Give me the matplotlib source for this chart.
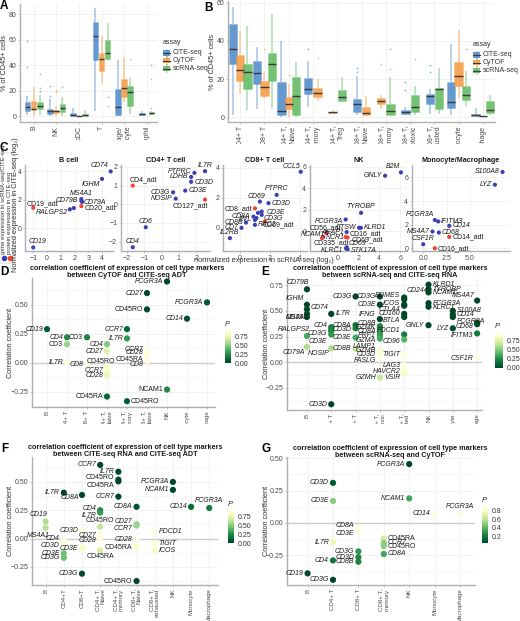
import matplotlib
matplotlib.use("Agg")
import matplotlib as mpl
import matplotlib.pyplot as plt
from matplotlib.transforms import Bbox, TransformedBbox
from matplotlib.patches import Rectangle, FancyBboxPatch
from matplotlib.lines import Line2D
from matplotlib.ticker import MultipleLocator

plt.rcParams['font.family'] = ['Liberation Sans', 'DejaVu Sans']
plt.rcParams['font.size'] = 5

W, H = 520, 621
fig = plt.figure(figsize=(W / 100, H / 100), dpi=100)

# ------------------------------------------------------------------ data
assays = ["CITE-seq", "CyTOF", "scRNA-seq"]
assay_colors = ["#4a87c7", "#f5983f", "#5cb85a"]

# panel A: lo, q1, median, q3, hi  (% of CD45+ cells)
a_cats = ["B", "NK", "pDC", "T", "Macrophage/\nMonocyte", "Neutrophil"]
a_cite = [[1, 4.6, 7.2, 11, 16], [0.5, 2, 4, 6, 14], [0, 0, 1, 2.6, 6.7],
          [4.6, 44, 62.7, 74, 85], [0, 0.8, 7.7, 21.4, 44], [0.3, 0.8, 1.5, 2.6, 4]]
a_cite_out = [[39, 59], [16, 24], [], [], [], []]
a_cytof = [[0, 5, 6, 12, 23], [0.5, 2.5, 4, 5, 8.5], [0, 0, 0.2, 0.5, 0.8],
           [25, 35.6, 45, 49.8, 63], [11, 15, 22, 29, 46.5], None]
a_cytof_out = [[], [19, 21], [], [], [], []]
a_rna = [[1, 6, 8, 11, 17], [0.5, 3.4, 6.5, 10, 15], [0, 0, 1, 2, 5],
         [44, 45, 50, 60, 73.5], [2, 8.5, 18.8, 24, 31], [1, 1.5, 2.5, 3.4, 4]]
a_rna_out = [[20, 22, 33], [23], [], [8, 15], [44.6], [6.7, 29, 40]]

# panel B
b_cats = ["CD4+ T", "CD8+ T", "CD4+ T,\nNaive", "CD4+ T,\nmemory", "CD4+ T,\nTreg",
          "CD8+ T,\nNaive", "CD8+ T,\nmemory", "CD8+ T,\ncytotoxic", "CD8+ T,\nexhausted",
          "Monocyte", "Macrophage"]
b_cite = [[1, 28, 35.6, 48.7, 57.7], [4, 17.4, 23, 29.6, 37], [0, 0.9, 3, 18.3, 40],
          [5.5, 12, 14.8, 20.5, 29.6], None, [0.9, 2.6, 6.6, 9.6, 21.7], None,
          [0.9, 1.7, 2.6, 3.5, 5.5], [1.7, 6.6, 10.9, 12.2, 14.8],
          [0.9, 4.9, 7.8, 18.3, 38.6], [0.3, 0.5, 1.2, 1.7, 5]]
b_cite_out = [[], [], [], [35.6], [], [23.6, 26], [], [14.3, 18.3], [23.6, 27.5], [], []]
b_cytof = [[12, 19, 24.9, 32.7, 45], [10, 11, 16, 18.8, 24], [0, 4, 7, 10.6, 17.4],
           [8.7, 10.4, 12.7, 15.3, 20], [1.9, 2.2, 2.4, 2.6, 3.8], [0.9, 0.9, 2.3, 5.2, 11],
           [4, 7, 8.3, 10, 11.5], None, None, [10, 16.5, 21.7, 29, 45.6], [0.3, 0.4, 0.5, 0.6, 0.7]]
b_cytof_out = [[], [36], [22], [31], [], [], [27.8], [], [], [], []]
b_rna = [[3.5, 15, 23.5, 28, 48], [4, 19, 28, 33.6, 54], [0, 0.9, 11, 21, 29], None,
         [8.7, 8.7, 10.6, 14.4, 21], None, [0.9, 0.9, 3, 7, 20.9],
         [0.9, 2.6, 5.5, 11.5, 16.5], [1.7, 4.3, 14.8, 15.3, 26],
         [5.2, 9.2, 11.7, 16.5, 24], [0.9, 2.1, 3.5, 8.7, 11.5]]
b_rna_out = [[], [], [], [], [], [], [25, 35.6], [30.4], [], [35.6], []]

# panel C: scRNA-seq (x) vs CITE-seq (y), protein points end in _adt
c_titles = ["B cell", "CD4+ T cell", "CD8+ T cell", "NK", "Monocyte/Macrophage"]
cb_name = ["CD74", "IGHM", "MS4A1", "CD79B", "CD79A", "RALGPS2", "", "CD19_adt", "CD20_adt", "CD19"]
cb_x = [4.63, 4.0, 2.5, 2.5, 2.55, 1.66, 1.95, -1.0, 2.5, -1.0]
cb_y = [4.0, 3.47, 2.05, 1.92, 1.85, 1.33, 1.42, 1.44, 1.56, -1.35]
c4_name = ["IL7R", "PTPRC", "LDHB", "CD3D", "CD3G", "CD3E", "NOSIP", "CD4_adt", "CD127_adt", "CD6", "CD4"]
c4_x = [2.51, 1.9, 1.71, 1.71, 0.67, 1.37, 0.82, -1.66, 2.51, -0.91, -1.66]
c4_y = [1.77, 1.68, 1.46, 1.2, 0.64, 0.73, 0.3, 1.0, 0.25, -1.23, -2.3]
c8_name = ["CCL5", "PTPRC", "CD69", "CD3D", "CD3E", "CD3G", "CD8_adt", "CD8A", "EVL", "CD8B",
           "RAC2", "CD7", "IL2RB", "CD69_adt", "", ""]
c8_x = [4.05, 2.45, 1.33, 1.9, 1.45, 1.45, 1.0, 0.9, 1.0, 0.4, 1.0, 0.1, -0.67, 1.67, 1.1, 1.2]
c8_y = [3.75, 2.2, 1.75, 1.65, 1.09, 0.87, 1.3, 0.75, 0.53, 0.35, 0.2, 0.0, -0.69, 0.42, 0.65, 1.0]
cn_name = ["B2M", "GNLY", "TYROBP", "FCGR3A", "CTSW", "KLRD1", "ACAP1", "NCAM1", "CD56_adt",
           "NCR1", "CD335_adt", "CD16_adt", "CD69_adt", "CD69", "KLRC1", "STK17A"]
cn_x = [6.07, 4.56, 2.27, 0.8, 2.08, 2.25, 0.9, -1.0, -1.05, -1.35, -1.45, 0.8, 0.98, 0.9, 0.83, 0.98]
cn_y = [5.46, 5.15, 1.7, 1.08, 0.31, 0.31, -0.09, -0.09, -0.2, -0.55, -0.65, -0.55, -0.6, -1.5, -1.6, -1.7]
cm_name = ["S100A8", "LYZ", "FCGR3A", "IFITM3", "CD14", "MS4A7", "CD68", "CD14_adt", "CSF1R", "CD16_adt"]
cm_x = [8.5, 7.68, 1.25, 1.61, 2.79, 1.0, 1.68, 2.79, 0.0, 1.25]
cm_y = [6.46, 5.38, 2.39, 2.27, 1.9, 1.42, 1.33, 0.97, 0.34, 0.0]

# panel D: CyTOF vs CITE-seq ADT
d_cats = ["B", "CD4+ T", "CD8+ T", "CD4+ T,\nNaive", "CD4+ T,\nmemory", "CD8+ T,\nNaive",
          "NK", "Monocyte", "Macrophage"]
d_cat = [0, 1, 1, 1, 2, 2, 3, 3, 3, 3, 3, 3, 4, 4, 4, 5, 5, 5, 5, 5, 5, 6, 6, 7, 8]
d_name = ["CD19", "CD4", "CD3", "IL7R", "CD3", "CD8", "CD4", "CD27", "CD45RO", "CCR7", "CD28",
          "CD45RA", "CCR7", "IL7R", "CD45RO", "CD27", "CD45RO", "CCR7", "CD28", "CD45RA", "CD8",
          "FCGR3A", "NCAM1", "CD14", "FCGR3A"]
d_r = [0.29, 0.22, 0.16, 0.005, 0.22, -0.01, 0.16, 0.10, -0.03, -0.07, -0.11, -0.29, 0.29, 0.21,
       -0.33, 0.60, 0.46, 0.10, 0.085, 0.04, 0.015, 0.70, -0.23, 0.38, 0.52]
d_p = [0.08, 0.25, 0.55, 0.92, 0.22, 0.93, 0.5, 0.72, 0.88, 0.86, 0.78, 0.12, 0.12, 0.3, 0.1,
       0.01, 0.005, 0.9, 0.9, 0.93, 0.95, 0.01, 0.25, 0.04, 0.06]

# panel E: scRNA-seq vs CITE-seq RNA
e_cats = ["B", "CD4+ T", "CD8+ T", "CD8+ T,\ncytotoxic", "CD8+ T,\nexhausted", "NK", "Monocyte", "Macrophage"]
e_cat = [0, 0, 0, 0, 0, 0, 0,
         1, 1, 1, 1, 1, 1, 1,
         2, 2, 2, 2, 2,
         3, 3, 3, 3, 3, 3, 3, 3, 3, 3, 3, 3, 3,
         4, 4, 4, 4, 4, 4, 4, 4, 4, 4, 4, 4,
         5, 5, 5, 5, 5, 5,
         6, 6, 6, 6,
         7, 7, 7, 7, 7]
e_name = ["CD79B", "IGHM", "CD74", "MS4A1", "CD19", "RALGPS2", "CD79A",
          "IL7R", "CD4", "", "CD3G", "CD3E", "NOSIP", "CD3D",
          "CD3G", "CD8A", "CD3D", "CD3E", "CD8B",
          "CD3G", "CD3E", "IFNG", "CD8B", "GZMK", "CD8A", "PRF1", "GZMA", "LAMP1", "GZMB", "CD3D", "FASLG", "GZMH",
          "CD244", "EOMES", "ICOS", "CTLA4", "CD160", "BTLA", "PDCD1", "CD96", "TIGIT", "LAG3", "HAVCR2", "VSIR",
          "KLRD1", "TYROBP", "NCAM1", "FCGR3A", "KLRC1", "GNLY",
          "S100A8", "CD14", "FCGR3A", "LYZ",
          "MS4A7", "CD68", "", "IFITM3", "CSF1R"]
e_r = [0.71, 0.56, 0.515, 0.47, 0.44, 0.255, 0.15,
       0.47, 0.34, 0.32, 0.30, 0.27, 0.135, -0.41,
       0.64, 0.36, 0.33, 0.24, 0.13,
       0.64, 0.56, 0.42, 0.35, 0.33, 0.31, 0.29, 0.26, 0.23, 0.11, 0.085, 0.06, -0.15,
       0.63, 0.61, 0.56, 0.55, 0.47, 0.44, 0.27, 0.22, 0.07, -0.03, -0.08, -0.11,
       0.755, 0.71, 0.68, 0.575, 0.54, 0.36,
       0.50, 0.465, 0.44, 0.33,
       0.60, 0.385, 0.37, 0.28, 0.04]
e_p = [0.01, 0.02, 0.02, 0.02, 0.01, 0.35, 0.6,
       0.01, 0.2, 0.22, 0.25, 0.3, 0.6, 0.01,
       0.01, 0.15, 0.2, 0.35, 0.65,
       0.01, 0.01, 0.01, 0.2, 0.25, 0.25, 0.3, 0.3, 0.35, 0.88, 0.9, 0.92, 0.65,
       0.01, 0.01, 0.01, 0.01, 0.01, 0.01, 0.2, 0.4, 0.92, 0.93, 0.9, 0.85,
       0.01, 0.01, 0.01, 0.01, 0.01, 0.01,
       0.01, 0.01, 0.01, 0.03,
       0.01, 0.02, 0.03, 0.2, 0.93]

# panel F: CITE-seq RNA vs CITE-seq ADT
f_cats = ["B", "CD4+T", "CD8+T", "CD4+ T,\nNaive", "CD4+ T,\nmemory", "CD8+ T,\nNaive",
          "CD8+ T,\nexhausted", "NK", "Monocyte", "Macrophage"]
f_cat = [0, 0, 1, 1, 1, 1, 1, 2, 2, 2, 2, 3, 3, 3, 3, 3, 3, 3, 4, 4, 4, 4,
         5, 5, 5, 5, 5, 5, 6, 6, 6, 7, 7, 8, 9]
f_name = ["CD19", "MS4A1", "IL7R", "CD4", "CD3D", "CD3E", "CD3G", "CD8A", "CD3D", "CD3E", "CD3G",
          "CCR7", "CD4", "IL7R", "CD45RO", "CD27", "CD28", "CD45RA", "IL7R", "CD45RO", "CD45RA", "CCR7",
          "CD8A", "CD27", "CCR7", "CD28", "CD45RA", "CD45RO", "PDCD1", "TIGIT", "ICOS",
          "FCGR3A", "NCAM1", "CD14", "FCGR3A"]
f_r = [0.15, 0.095, 0.405, -0.015, -0.045, -0.13, -0.17, 0.385, 0.075, -0.085, -0.31,
       0.65, 0.25, 0.23, 0.105, 0.03, -0.015, -0.105, 0.59, 0.52, 0.505, 0.37,
       0.28, 0.125, 0.115, -0.005, -0.075, -0.375, 0.065, -0.045, -0.105,
       0.50, 0.43, 0.28, 0.27]
f_p = [0.6, 0.62, 0.01, 0.93, 0.9, 0.45, 0.45, 0.01, 0.92, 0.85, 0.02,
       0.01, 0.25, 0.3, 0.65, 0.92, 0.93, 0.7, 0.01, 0.01, 0.01, 0.01,
       0.05, 0.5, 0.55, 0.93, 0.85, 0.01, 0.92, 0.9, 0.85,
       0.01, 0.01, 0.15, 0.2]

# panel G: scRNA-seq vs CyTOF
g_cats = ["B", "CD4+ T", "CD8+ T", "CD8+ T,\nmemory", "NK", "Monocyte", "Macrophage"]
g_cat = [0, 1, 1, 1, 1, 1, 2, 2, 2, 2, 2, 3, 3, 3, 3, 4, 4, 5, 6]
g_name = ["CD19", "CD3D", "CD3E", "IL7R", "CD4", "CD3G", "CD8A", "CD3E", "CD3G", "CD3D", "CD8B",
          "CD45RA", "CCR7", "CD45RO", "CD8A", "FCGR3A", "NCAM1", "CD14", "FCGR3A"]
g_r = [-0.39, 0.31, 0.17, -0.15, -0.29, -0.44, -0.04, -0.065, -0.22, -0.265, -0.30,
       -0.12, -0.155, -0.18, -0.24, 0.455, 0.19, 0.07, 0.07]
g_p = [0.06, 0.12, 0.5, 0.75, 0.2, 0.06, 0.86, 0.86, 0.3, 0.25, 0.25,
       0.65, 0.5, 0.5, 0.35, 0.06, 0.35, 0.86, 0.86]


# ------------------------------------------------------------------ layout helpers
def L(dy=0, dx=-4):
    return (dx, dy, "right")


def R(dy=0, dx=4):
    return (dx, dy, "left")


def U(dy=6, dx=0):
    return (dx, dy, "center")


def px_axes(l, t, r, b):
    return fig.add_axes([l / W, 1 - b / H, (r - l) / W, (b - t) / H])


def clip_xlabels(ax, l, t, r, b):
    bb = TransformedBbox(Bbox.from_extents(l / W, 1 - b / H, r / W, 1 - t / H), fig.transFigure)
    for lab in ax.get_xticklabels():
        lab.set_clip_box(bb)
        lab.set_clip_on(True)


def ftext(x, y, s, **kw):
    return fig.text(x / W, 1 - y / H, s, **kw)


def style_axes(ax):
    for s in ["top", "right"]:
        ax.spines[s].set_visible(False)
    for s in ["left", "bottom"]:
        ax.spines[s].set_color("#b0b0b0")
        ax.spines[s].set_linewidth(1.0)
    ax.tick_params(length=1.5, width=0.5, color="#b0b0b0", labelsize=5, pad=1.2, labelcolor="#4a4a4a")
    ax.grid(color="#ededed", lw=0.5)
    ax.set_axisbelow(True)


def cat_labels(ax, cats, fs=5):
    ax.set_xticks(range(len(cats)))
    ax.set_xticklabels(cats, rotation=90, ha="center", va="top", multialignment="right", fontsize=fs)


def box_panel(ax, cats, stats, outs, offs3, offs2, width):
    for i in range(len(cats)):
        have = [k for k in range(3) if stats[k][i] is not None]
        offs = offs3 if len(have) == 3 else offs2
        for j, k in enumerate(have):
            lo, q1, med, q3, hi = stats[k][i]
            st = dict(med=med, q1=q1, q3=q3, whislo=lo, whishi=hi, fliers=outs[k][i])
            c = assay_colors[k]
            ax.bxp([st], positions=[i + offs[j]], widths=width, patch_artist=True, showcaps=False,
                   boxprops=dict(facecolor=mpl.colors.to_rgba(c, 0.85), edgecolor=mpl.colors.to_rgba(c, 0.35), lw=0.5),
                   whiskerprops=dict(color=mpl.colors.to_rgba(c, 0.42), lw=1.3, solid_capstyle="butt"),
                   medianprops=dict(color="#3a3a3a", lw=1.0, solid_capstyle="butt"),
                   flierprops=dict(marker="o", markersize=1.3, markerfacecolor=mpl.colors.to_rgba(c, 0.6),
                                   markeredgecolor="none"))
    style_axes(ax)
    cat_labels(ax, cats)
    ax.set_ylabel("% of CD45+ cells", fontsize=5.3, color="#333333", labelpad=0.5)


def box_legend(x, y):
    ftext(x, y, "assay", fontsize=5, color="#333333", va="center")
    for k, name in enumerate(assays):
        yy = y + 10 + 7.8 * k
        c = assay_colors[k]
        fig.add_artist(Line2D([(x + 3.5) / W] * 2, [1 - (yy - 3.5) / H, 1 - (yy + 3.5) / H],
                              color=mpl.colors.to_rgba(c, 0.45), lw=1.2))
        fig.add_artist(Rectangle((x / W, 1 - (yy + 2.5) / H), 7 / W, 5 / H,
                                 facecolor=mpl.colors.to_rgba(c, 0.85), edgecolor="none"))
        fig.add_artist(Line2D([x / W, (x + 7) / W], [1 - yy / H] * 2, color="#3a3a3a", lw=0.8))
        ftext(x + 9.5, yy, name, fontsize=5, color="#333333", va="center")


# ------------------------------------------------------------------ A
axA = px_axes(20, 4, 157, 122)
box_panel(axA, a_cats, [a_cite, a_cytof, a_rna], [a_cite_out, a_cytof_out, a_rna_out],
          [-0.27, 0, 0.27], [-0.2, 0.2], 0.25)
axA.set_xlim(-0.6, 5.45)
axA.set_ylim(-4.4, 88)
axA.set_yticks([0, 20, 40, 60, 80])
clip_xlabels(axA, 0, 0, 205, 140)
box_legend(163, 43)

# ------------------------------------------------------------------ B
axB = px_axes(228, 1, 495, 122)
box_panel(axB, b_cats, [b_cite, b_cytof, b_rna], [b_cite_out, b_cytof_out, b_rna_out],
          [-0.3, 0, 0.3], [-0.19, 0.19], 0.34)
axB.set_xlim(-0.5, 10.5)
axB.set_ylim(-2.6, 61)
axB.set_yticks([0, 20, 40, 60])
clip_xlabels(axB, 200, 0, 520, 144)
box_legend(473, 45)

# ------------------------------------------------------------------ C
gene_col, prot_col = "#3b3fb4", "#f2432b"
c_sets = [
    (cb_x, cb_y, cb_name, (25, 165, 113, 251), (-1.6, 4.8), (-1.6, 4.45), [-1, 0, 1, 2, 3, 4], [0, 2, 4],
     [L(6, -2), L(-6, -2), U(6), L(0, -3), R(-1, 2), L(-3, -2), None, R(4, -7), R(-1.5, 3), R(5.5, -5)]),
    (c4_x, c4_y, c4_name, (121, 165, 210, 251), (-2.34, 2.8), (-2.5, 2.1), [-2, -1, 0, 1, 2], [-2, -1, 0, 1, 2],
     [U(6), L(1, -3), L(0, -3), R(-1, 3), L(0, -3), R(0, 3), L(0, -3), R(6, -3), L(-6, 3), U(6), U(6)]),
    (c8_x, c8_y, c8_name, (223, 165, 307, 251), (-1.13, 4.47), (-1.55, 4.2), [0, 2, 4], [0, 2, 4],
     [L(5, 0), U(6), U(5, -3), R(0, 3), R(-1, 5), R(-4, 2), L(0, -3), L(0, -3), L(0, -3), L(0, -3),
      R(0, 3), L(0, -3), U(6), R(-3, -2), None, None]),
    (cn_x, cn_y, cn_name, (310, 165, 407, 251), (-2.6, 6.65), (-1.85, 6.15), [0, 2, 4, 6], [0, 2, 4, 6],
     [L(6, -1), L(0, -3), U(6), L(-2, -3), L(0, -3), R(0, 3), L(0, -3), L(-2, -2), L(5, 15),
      R(0, 3), R(-5, -8), R(3, 4), R(-2, 4), R(4, 2), L(-2, -3), R(-1, 3)]),
    (cm_x, cm_y, cm_name, (412, 165, 510, 251), (-1.2, 9.3), (-0.23, 7.05), [0, 2.5, 5], [0, 2, 4, 6],
     [L(0, -3), L(0, -3), L(6, -1), R(0, 2), R(0, 3), L(0, -3), R(0, 3), R(0, 3), U(6), R(0, 3)]),
]
for (cx, cy, cn, box, xl, yl, xt, yt, labs), title in zip(c_sets, c_titles):
    ax = px_axes(*box)
    style_axes(ax)
    cols = [prot_col if n.endswith("_adt") else gene_col for n in cn]
    ax.scatter(cx, cy, c=cols, s=9, edgecolors="none", zorder=3)
    for x, y, n, lab in zip(cx, cy, cn, labs):
        if not n:
            continue
        dx, dy, ha = lab
        ax.annotate(n, (x, y), xytext=(dx * 0.72, dy * 0.72), textcoords="offset points",
                    ha=ha, va="center", fontsize=5, color="#1a1a1a",
                    style="normal" if n.endswith("_adt") else "italic", zorder=4)
    ax.set_xlim(*xl)
    ax.set_ylim(*yl)
    ax.set_xticks(xt)
    ax.set_yticks(yt)
    if title == "Monocyte/Macrophage":
        ax.set_xticklabels(["0.0", "2.5", "5.0"])
    ax.set_title(title, fontsize=5.2, fontweight="bold", pad=2, color="#1a1a1a")

ftext(16, 205, "Normalized expression in CITE-seq (log\u2082)", rotation=90, ha="center", va="center",
      fontsize=5.3, color="#333333")
ftext(264, 261, "normalized expression in scRNA-seq (log\u2082)", ha="center", va="center",
      fontsize=5.3, color="#333333")
fig.add_artist(FancyBboxPatch((1 / W, 1 - 262 / H), 12 / W, 108 / H, boxstyle="round,pad=0.002",
                              facecolor="none", edgecolor="#d6d6d6", lw=0.5))
fig.add_artist(Line2D([4 / W], [1 - 258 / H], marker="o", color=gene_col, markersize=3, lw=0))
fig.add_artist(Line2D([9.5 / W], [1 - 258 / H], marker="o", color=prot_col, markersize=3, lw=0))
ftext(4, 254, "gene expression in scRNA-seq/CITE-seq", rotation=90, ha="center", va="bottom",
      fontsize=4.3, color="#333333")
ftext(9.5, 254, "protein expression in CITE-seq", rotation=90, ha="center", va="bottom",
      fontsize=4.3, color="#333333")

# ------------------------------------------------------------------ D-G
cmap = plt.get_cmap("YlGn_r")


def corr_panel(box, cbox, cats, ci, r, names, p, labs, upright, prange, pticks, ptlabels,
               xl, yl, yt, title, tpos, clipbox, ylab_x):
    ax = px_axes(*box)
    style_axes(ax)
    ax.yaxis.set_minor_locator(MultipleLocator(0.125))
    ax.grid(which="minor", axis="y", color="#f3f3f3", lw=0.4)
    ax.tick_params(which="minor", length=0)
    ax.axhline(0, color="#cccccc", lw=1.0, zorder=1)
    norm = mpl.colors.Normalize(*prange)
    ax.scatter(ci, r, c=p, cmap=cmap, norm=norm, s=20, edgecolors="none", zorder=3)
    for x, y, n, lab in zip(ci, r, names, labs):
        if not n:
            continue
        dx, dy, ha = lab
        ax.annotate(n, (x, y), xytext=(dx * 0.72, dy * 0.72), textcoords="offset points",
                    ha=ha, va="center", fontsize=5, color="#1a1a1a",
                    style="normal" if n in upright else "italic", zorder=4)
    ax.set_xlim(*xl)
    ax.set_ylim(*yl)
    ax.set_yticks(yt)
    ax.set_yticklabels(["\u2212%.2f" % -v if v < 0 else "%.2f" % v for v in yt])
    cat_labels(ax, cats, fs=4.4)
    ax.tick_params(axis="x", pad=1)
    clip_xlabels(ax, *clipbox)
    ftext(ylab_x, (box[1] + box[3]) / 2, "Correlation coefficient", rotation=90, ha="center",
          va="center", fontsize=5.3, color="#333333")
    ftext(tpos[0], tpos[1], title, ha="center", va="top", fontsize=5.2, fontweight="bold",
          linespacing=1.05, color="#1a1a1a")
    cax = px_axes(*cbox)
    cb = mpl.colorbar.Colorbar(cax, cmap=cmap, norm=norm, ticks=pticks)
    cb.outline.set_visible(False)
    cb.ax.set_yticklabels(ptlabels)
    cax.tick_params(labelsize=5, length=1.5, width=0.5, color="white", pad=1, labelcolor="#333333")
    ftext(cbox[0], cbox[1] - 6, "P", fontsize=5.5, style="italic", color="#333333", va="center")
    return ax


p4 = [0, 0.25, 0.5, 0.75]
p4l = ["0.00", "0.25", "0.50", "0.75"]

d_labs = [L(), L(), L(), L(), L(), L(), L(), L(), (8, 5, "right"), L(), L(), L(),
          L(), L(), R(), L(), L(), L(2), L(0), L(-1), L(-3), L(), L(), L(), L()]
corr_panel((32, 278, 215, 407), (225, 330, 231, 363), d_cats, d_cat, d_r, d_name, d_p, d_labs,
           {"CD3", "CD45RO", "CD45RA", "NCAM1"}, (0, 0.95), p4, p4l,
           (-0.75, 8.4), (-0.38, 0.73), [-0.25, 0, 0.25, 0.5],
           "correlation coefficient of expression of cell type markers\nbetween CyTOF and CITE-seq ADT",
           (127, 265), (0, 265, 260, 424), 11)

e_labs = [(2, 7, "right"), L(6, -3), R(2), (2, -4, "right"), L(), (3, 6, "right"), L(-6, -2),
          R(), L(2), None, L(-2), L(-7), L(-5, -2), L(),
          L(), L(), L(-1), L(), L(),
          L(), L(), L(5), L(3), L(1), L(-1), L(-3), L(-5), L(-8), L(), L(-1), L(-4), L(),
          (2, 7, "left"), L(4), L(1), L(-4), L(), L(-3), L(4), L(-2), L(), L(), L(-1), L(-4),
          R(), R(), R(), R(), R(-1), L(),
          R(), R(), R(-4), L(),
          (-2, 5, "right"), L(-4), None, L(-2), L()]
corr_panel((287, 278, 482, 410), (495, 333, 503, 368), e_cats, e_cat, e_r, e_name, e_p, e_labs,
           set(), (0, 0.95), p4, p4l,
           (-0.82, 7.2), (-0.466, 0.82), [-0.25, 0, 0.25, 0.5, 0.75],
           "correlation coefficient of expression of cell type markers\nbetween scRNA-seq and CITE-seq RNA",
           (390, 265), (260, 265, 520, 424), 267)

f_labs = [(2, 7, "right"), (4, -8, "right"), L(), L(2), L(-2), L(), L(), L(-3, -3), L(), L(), L(),
          L(), L(2), L(-3), U(6), L(), L(), U(-6), L(), L(2), L(-4), L(),
          L(), L(3), L(-3), L(), L(), L(), R(), R(), R(),
          L(), L(), L(), U(7)]
corr_panel((32, 457, 218, 585), (228, 510, 234, 543), f_cats, f_cat, f_r, f_name, f_p, f_labs,
           {"CD45RO", "CD45RA"}, (0, 0.95), p4, p4l,
           (-0.75, 9.48), (-0.41, 0.72), [-0.25, 0, 0.25, 0.5],
           "correlation coefficient of expression of cell type markers\nbetween CITE-seq RNA and CITE-seq ADT",
           (125, 444), (0, 425, 260, 621), 11)

g_labs = [L(), L(), L(), L(), L(), L(), L(3), L(-2), L(), L(), L(),
          R(), R(), R(), R(), L(), L(), L(), U(7)]
corr_panel((287, 457, 475, 585), (482, 507, 488, 543), g_cats, g_cat, g_r, g_name, g_p, g_labs,
           {"CD45RO", "CD45RA"}, (0.05, 0.88), [0.2, 0.4, 0.6, 0.8], ["0.2", "0.4", "0.6", "0.8"],
           (-0.81, 6.59), (-0.48, 0.51), [-0.25, 0, 0.25, 0.5],
           "correlation coefficient of expression of cell type markers\nbetween scRNA-seq and CyTOF",
           (390, 445), (260, 425, 520, 621), 267)

# panel letters
for lt, (x, y) in zip("ABCDEFG", [(0, 0), (204, 2), (0, 142), (0, 266), (261, 266), (1, 443), (261, 443)]):
    ftext(x, y, lt, fontsize=8.5, fontweight="bold", va="top", ha="left")

fig.savefig("out.png", dpi=100)
